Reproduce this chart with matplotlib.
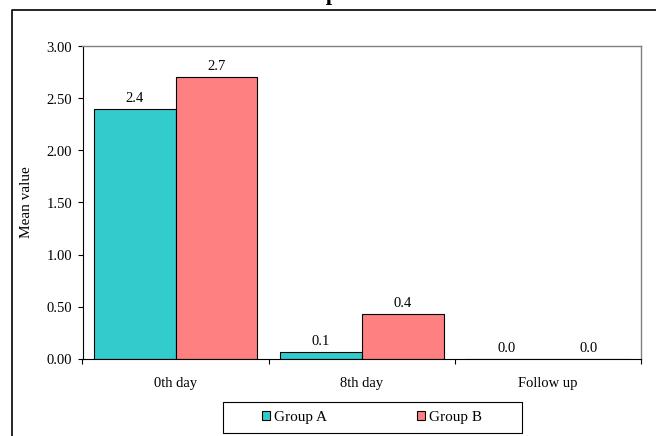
import numpy as np
import matplotlib
matplotlib.use('Agg')
import matplotlib.pyplot as plt
from matplotlib.patches import Rectangle, Patch
from matplotlib.lines import Line2D

# Mean values per visit
categories = ['0th day', '8th day', 'Follow up']
group_a = [2.40, 0.065, 0.0]
group_b = [2.71, 0.43, 0.0]
series_names = ['Group A', 'Group B']
y_ticks = [0.0, 0.5, 1.0, 1.5, 2.0, 2.5, 3.0]

teal = '#33CCCC'
pink = '#FF8080'

plt.rcParams['font.family'] = ['Liberation Serif', 'DejaVu Serif']

W, H = 656, 436
fig = plt.figure(figsize=(W / 100, H / 100), dpi=100)
ax = fig.add_axes([82.5 / W, 1 - 358.5 / H, (641 - 82.5) / W, (358.5 - 46.5) / H])

x = np.arange(len(categories))
bw = 0.44
bars_a = ax.bar(x - bw / 2, group_a, bw, color=teal, edgecolor='black', linewidth=0.8)
bars_b = ax.bar(x + bw / 2, group_b, bw, color=pink, edgecolor='black', linewidth=0.8)

for bars, vals in ((bars_a, group_a), (bars_b, group_b)):
    for b, v in zip(bars, vals):
        ax.annotate(f'{v:.1f}', (b.get_x() + b.get_width() / 2, v),
                    xytext=(0, 2.5), textcoords='offset points',
                    ha='center', va='bottom', fontsize=10.5)

ax.set_xlim(-0.5, len(categories) - 0.5)
ax.set_ylim(0, 3)
ax.set_yticks(y_ticks)
ax.set_yticklabels([f'{t:.2f}' for t in y_ticks], fontsize=10.5)
ax.tick_params(axis='y', direction='out', length=3.5, width=0.8, pad=4)

ax.set_xticks(x)
ax.set_xticklabels(categories, fontsize=10.5)
ax.set_xticks(np.arange(len(categories) + 1) - 0.5, minor=True)
ax.tick_params(axis='x', which='major', length=0, pad=13)
ax.tick_params(axis='x', which='minor', direction='out', length=3.5, width=0.8)

ax.set_ylabel('Mean value', fontsize=11, labelpad=9.5)

for side in ('top', 'right'):
    ax.spines[side].set_color('#808080')
    ax.spines[side].set_linewidth(1.0)
for side in ('left', 'bottom'):
    ax.spines[side].set_color('black')
    ax.spines[side].set_linewidth(0.8)

# legend inside a plain box under the plot
handles = [Patch(facecolor=teal, edgecolor='black', linewidth=0.8),
           Patch(facecolor=pink, edgecolor='black', linewidth=0.8)]
fig.legend(handles, series_names, loc='center', ncol=2,
           bbox_to_anchor=(372 / W, 1 - 417.5 / H), frameon=False,
           fontsize=11, handlelength=0.55, handleheight=0.55,
           handletextpad=0.25, columnspacing=5.9)
fig.add_artist(Rectangle((222.7 / W, 1 - 433 / H), (521.5 - 222.7) / W, 31 / H,
                         transform=fig.transFigure, fill=False,
                         edgecolor='black', linewidth=0.8))

# chart area border
fig.add_artist(Line2D([11.5 / W, 11.5 / W, 1.05], [-0.05, 1 - 10.5 / H, 1 - 10.5 / H],
                      transform=fig.transFigure, color='black', linewidth=1.2))

fig.text(281 / W, 1.0, 'Comparison', fontsize=16, fontweight='bold',
         ha='left', va='baseline')

fig.savefig('out.png', dpi=100)
